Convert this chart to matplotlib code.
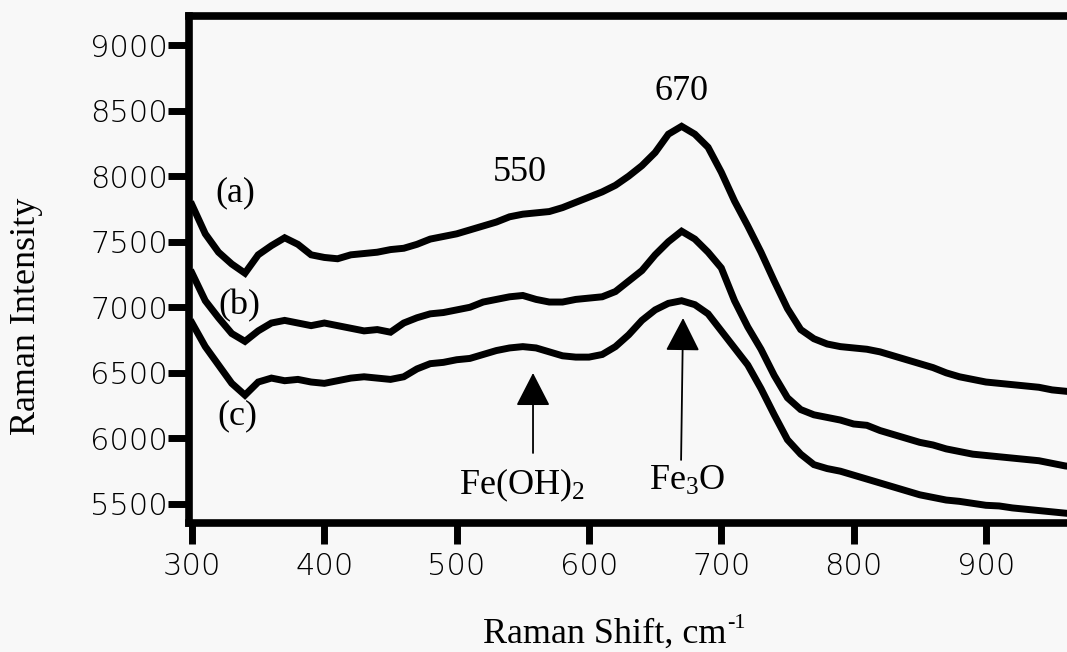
import matplotlib
matplotlib.use("Agg")
import matplotlib.pyplot as plt

plt.rcParams['mathtext.fontset'] = 'custom'
plt.rcParams['mathtext.rm'] = 'Liberation Serif'

# Raman shift grid (cm^-1)
shift = [300, 310, 320, 330, 340, 350, 360, 370, 380, 390,
         400, 410, 420, 430, 440, 450, 460, 470, 480, 490,
         500, 510, 520, 530, 540, 550, 560, 570, 580, 590,
         600, 610, 620, 630, 640, 650, 660, 670, 680, 690,
         700, 710, 720, 730, 740, 750, 760, 770, 780, 790,
         800, 810, 820, 830, 840, 850, 860, 870, 880, 890,
         900, 910, 920, 930, 940, 950, 960, 970]

spec_a = [7780, 7560, 7420, 7330, 7260, 7400, 7470, 7530, 7480, 7400,
          7380, 7370, 7400, 7410, 7420, 7440, 7450, 7480, 7520, 7540,
          7560, 7590, 7620, 7650, 7690, 7710, 7720, 7730, 7760, 7800,
          7840, 7880, 7930, 8000, 8080, 8180, 8320, 8380, 8320, 8220,
          8030, 7810, 7620, 7420, 7200, 6990, 6830, 6760, 6720, 6700,
          6690, 6680, 6660, 6630, 6600, 6570, 6540, 6500, 6470, 6450,
          6430, 6420, 6410, 6400, 6390, 6370, 6360, 6350]

spec_b = [7260, 7050, 6920, 6800, 6740, 6820, 6880, 6900, 6880, 6860,
          6880, 6860, 6840, 6820, 6830, 6810, 6880, 6920, 6950, 6960,
          6980, 7000, 7040, 7060, 7080, 7090, 7060, 7040, 7040, 7060,
          7070, 7080, 7120, 7200, 7280, 7400, 7500, 7580, 7520, 7420,
          7300, 7050, 6850, 6680, 6480, 6310, 6220, 6180, 6160, 6140,
          6110, 6100, 6060, 6030, 6000, 5970, 5950, 5920, 5900, 5880,
          5870, 5860, 5850, 5840, 5830, 5810, 5790, 5780]

spec_c = [6880, 6700, 6560, 6420, 6330, 6430, 6460, 6440, 6450, 6430,
          6420, 6440, 6460, 6470, 6460, 6450, 6470, 6530, 6570, 6580,
          6600, 6610, 6640, 6670, 6690, 6700, 6690, 6660, 6630, 6620,
          6620, 6640, 6700, 6790, 6900, 6980, 7030, 7050, 7020, 6950,
          6820, 6690, 6560, 6380, 6180, 5990, 5880, 5800, 5770, 5750,
          5720, 5690, 5660, 5630, 5600, 5570, 5550, 5530, 5520, 5505,
          5490, 5485, 5470, 5460, 5450, 5440, 5430, 5420]

xticks = [300, 400, 500, 600, 700, 800, 900]
yticks = [5500, 6000, 6500, 7000, 7500, 8000, 8500, 9000]
curve_labels = ["(a)", "(b)", "(c)"]
peak_labels = ["550", "670"]
phase_labels = [r"Fe(OH)$\mathregular{_2}$", r"Fe$\mathregular{_3}$O"]

bg = "#f8f8f8"
fig = plt.figure(figsize=(10.67, 6.52), dpi=100, facecolor=bg)
ax = fig.add_axes([189/1067, 1 - 523/652, 0.843, (523 - 15.5)/652])
ax.set_facecolor(bg)

for s in (spec_a, spec_b, spec_c):
    ax.plot(shift, s, color="black", lw=5.0, solid_joinstyle="miter")

ax.set_xlim(297.7, 977.5)
ax.set_ylim(5355, 9225)
ax.set_xticks(xticks)
ax.set_yticks(yticks)
ax.set_xticklabels([str(t) for t in xticks], fontsize=22, family="DejaVu Sans",
                   fontweight="light")
ax.set_yticklabels([str(t) for t in yticks], fontsize=22, family="DejaVu Sans",
                   fontweight="light")
ax.tick_params(axis="both", direction="out", length=15, width=5, color="black")
ax.tick_params(axis="y", pad=0)
ax.tick_params(axis="x", pad=6)
for side in ("left", "bottom", "top"):
    ax.spines[side].set_linewidth(5.5)
ax.spines["right"].set_visible(False)

serif = "Liberation Serif"
fs = 26
for lab, (x, y) in zip(curve_labels, [(333, 7871), (335.5, 7010), (334, 6171)]):
    ax.text(x, y, lab, family=serif, fontsize=fs, ha="center", va="center")
for lab, (x, y) in zip(peak_labels, [(548, 7963), (670, 8581)]):
    ax.text(x, y, lab, family=serif, fontsize=fs, ha="center", va="baseline")
for lab, (x, y) in zip(phase_labels, [(549.5, 5570), (674, 5607)]):
    ax.text(x, y, lab, family=serif, fontsize=fs, ha="center", va="baseline")

arrow_kw = dict(arrowstyle="-|>,head_length=1.05,head_width=0.54",
                mutation_scale=20, lw=1.3, color="black",
                shrinkA=0, shrinkB=0)
ax.annotate("", xy=(557.7, 6499), xytext=(557.7, 5889), arrowprops=arrow_kw)
ax.annotate("", xy=(671.1, 6918), xytext=(669.6, 5836), arrowprops=arrow_kw)

# x-axis title with a hyphen-style superscript "-1"
main = fig.text(483/1067, 1 - 643/652, "Raman Shift, cm",
                family=serif, fontsize=fs, ha="left", va="baseline")
fig.canvas.draw()
bb = main.get_window_extent(renderer=fig.canvas.get_renderer())
fig.text((bb.x1 + 1) / 1067, 1 - 628/652, "-1", family=serif, fontsize=16,
         ha="left", va="baseline")

fig.text(27/1067, 1 - 316/652, "Raman Intensity", family=serif, fontsize=fs,
         rotation=90, ha="center", va="center")

fig.savefig("out.png", dpi=100, facecolor=bg)
